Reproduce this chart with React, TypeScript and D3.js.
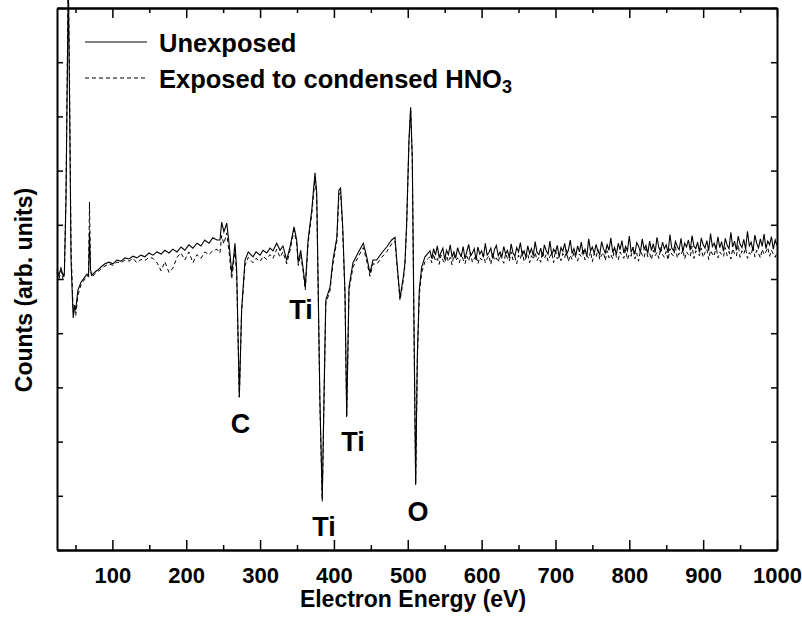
import React, { useRef, useEffect } from 'react';
import * as d3 from 'd3';

// Electron energy (eV) of each sampled point
const energy = [
  25, 27.7, 30.4, 33.5, 35, 37.2, 39.2, 40.3, 42, 44, 46, 47, 48.7, 50.3, 53.4, 57.5, 62.9, 65.6, 67.7, 69,
  70.4, 72.4, 76.5, 80.5, 86, 90, 95.4, 100.8, 106, 111.7, 117, 122.5, 128, 133, 138.7, 144, 149.6, 155, 160.4, 166,
  171, 176.7, 182, 187.5, 193, 198, 203.7, 209, 214.6, 220, 225, 230.8, 236, 241.6, 245.7, 248, 251, 254.8, 258, 261.6,
  263.8, 266, 268.3, 271.9, 275, 279.6, 284, 290.4, 294.5, 300, 304, 309, 313.4, 317.5, 322.5, 327, 331, 336, 340.5, 346,
  349.6, 351.7, 355, 358.5, 361.2, 365, 370, 374.4, 376.7, 378.8, 381, 384.2, 386.5, 389, 394.7, 398.7, 404, 406.7, 409, 411.9,
  415, 417.3, 420.4, 425.8, 432.6, 439.8, 444.4, 448.8, 452.9, 457.9, 464.7, 471.4, 478.2, 482.7, 485.4, 489.5, 494, 496.2, 498.5, 501.6,
  503.9, 506.1, 508.4, 510.7, 512.9, 515.6, 518.8, 523.3, 527.8,
  530, 532.5, 535, 537.5, 540, 542.5, 545, 547.5, 550, 552.5, 555, 557.5, 560, 562.5, 565, 567.5, 570, 572.5, 575, 577.5,
  580, 582.5, 585, 587.5, 590, 592.5, 595, 597.5, 600, 602.5, 605, 607.5, 610, 612.5, 615, 617.5, 620, 622.5, 625, 627.5,
  630, 632.5, 635, 637.5, 640, 642.5, 645, 647.5, 650, 652.5, 655, 657.5, 660, 662.5, 665, 667.5, 670, 672.5, 675, 677.5,
  680, 682.5, 685, 687.5, 690, 692.5, 695, 697.5, 700, 702.5, 705, 707.5, 710, 712.5, 715, 717.5, 720, 722.5, 725, 727.5,
  730, 732.5, 735, 737.5, 740, 742.5, 745, 747.5, 750, 752.5, 755, 757.5, 760, 762.5, 765, 767.5, 770, 772.5, 775, 777.5,
  780, 782.5, 785, 787.5, 790, 792.5, 795, 797.5, 800, 802.5, 805, 807.5, 810, 812.5, 815, 817.5, 820, 822.5, 825, 827.5,
  830, 832.5, 835, 837.5, 840, 842.5, 845, 847.5, 850, 852.5, 855, 857.5, 860, 862.5, 865, 867.5, 870, 872.5, 875, 877.5,
  880, 882.5, 885, 887.5, 890, 892.5, 895, 897.5, 900, 902.5, 905, 907.5, 910, 912.5, 915, 917.5, 920, 922.5, 925, 927.5,
  930, 932.5, 935, 937.5, 940, 942.5, 945, 947.5, 950, 952.5, 955, 957.5, 960, 962.5, 965, 967.5, 970, 972.5, 975, 977.5,
  980, 982.5, 985, 987.5, 990, 992.5, 995, 997.5, 1000,
];

// Counts (arb. units), unexposed sample
const unexposed = [
  517, 507, 520, 504, 513, 646, 904, 1052, 830, 535, 461, 428, 452, 443, 480, 494, 504, 509, 506, 587,
  517, 507, 513, 517, 524, 528, 531, 528, 535, 533, 539, 537, 542, 539, 544, 541, 548, 544, 550, 546,
  553, 548, 555, 550, 559, 553, 563, 557, 566, 561, 572, 566, 576, 572, 572, 605, 587, 603, 566, 511,
  535, 566, 517, 282, 443, 535, 550, 541, 550, 544, 553, 548, 557, 552, 566, 553, 561, 535, 559, 596,
  572, 530, 553, 517, 485, 572, 627, 696, 659, 474, 277, 94, 277, 461, 485, 535, 577, 664, 668, 596,
  474, 247, 485, 530, 548, 566, 541, 511, 535, 535, 548, 559, 572, 577, 530, 465, 504, 530, 603, 756,
  817, 725, 419, 122, 356, 480, 522, 541, 548,
  552, 538, 556, 544, 561, 540, 549, 557, 536, 553, 545, 563, 541, 550, 539, 558, 547, 542, 560, 537,
  551, 564, 543, 548, 556, 535, 559, 546, 552, 540, 566, 544, 549, 557, 538, 555, 562, 543, 550, 541,
  560, 546, 553, 539, 565, 548, 542, 558, 550, 567, 544, 552, 540, 561, 547, 556, 543, 569, 549, 545,
  557, 541, 563, 552, 546, 570, 544, 555, 549, 562, 540, 558, 551, 566, 545, 553, 572, 547, 556, 543,
  561, 550, 568, 546, 555, 542, 574, 552, 559, 547, 564, 551, 545, 569, 556, 548, 563, 553, 576, 549,
  558, 545, 566, 554, 571, 548, 560, 552, 579, 550, 557, 546, 567, 561, 549, 574, 555, 562, 547, 570,
  553, 565, 549, 577, 558, 551, 568, 556, 563, 548, 582, 557, 552, 569, 560, 554, 575, 550, 566, 559,
  572, 553, 580, 561, 556, 568, 549, 576, 563, 557, 571, 552, 584, 560, 566, 554, 578, 558, 569, 551,
  575, 562, 556, 586, 559, 570, 553, 579, 564, 558, 573, 555, 588, 561, 568, 552, 581, 566, 557, 574,
  560, 583, 556, 570, 563, 578, 555, 572, 562,
];

// Counts (arb. units), sample exposed to condensed HNO3
const exposed = [
  512, 500, 515, 498, 508, 660, 930, 1060, 860, 560, 475, 440, 448, 432, 470, 490, 500, 506, 504, 642,
  515, 503, 510, 514, 520, 524, 528, 525, 531, 530, 535, 533, 538, 530, 536, 534, 540, 538, 530, 515,
  532, 512, 520, 540, 548, 535, 550, 530, 545, 538, 550, 545, 552, 555, 548, 580, 565, 585, 550, 500,
  525, 555, 508, 282, 440, 525, 540, 530, 538, 532, 542, 536, 545, 538, 555, 540, 550, 528, 552, 590,
  565, 525, 545, 512, 480, 565, 620, 685, 650, 465, 270, 90, 270, 455, 478, 528, 570, 655, 660, 590,
  468, 245, 478, 522, 540, 558, 533, 505, 528, 527, 540, 550, 565, 570, 525, 460, 498, 525, 598, 750,
  812, 720, 415, 120, 345, 470, 512, 532, 538,
  541, 530, 546, 533, 538, 527, 544, 535, 529, 543, 532, 540, 526, 545, 534, 539, 530, 547, 536, 528,
  542, 533, 549, 531, 537, 544, 528, 540, 535, 546, 530, 538, 543, 527, 548, 534, 539, 531, 545, 536,
  529, 547, 538, 533, 550, 535, 541, 528, 544, 537, 552, 532, 539, 546, 530, 543, 536, 549, 534, 540,
  531, 551, 538, 545, 533, 542, 548, 530, 553, 537, 541, 534, 547, 539, 554, 532, 544, 536, 550, 540,
  533, 546, 541, 556, 535, 543, 538, 551, 532, 547, 540, 555, 536, 544, 549, 534, 552, 539, 545, 537,
  557, 541, 535, 550, 543, 538, 554, 536, 546, 542, 559, 537, 548, 533, 552, 544, 539, 556, 541, 547,
  536, 553, 543, 549, 538, 558, 545, 540, 551, 535, 556, 546, 542, 560, 539, 548, 544, 554, 537, 550,
  545, 541, 561, 538, 552, 547, 543, 557, 540, 549, 555, 536, 553, 546, 542, 562, 539, 550, 545, 541,
  558, 543, 551, 537, 556, 547, 542, 563, 540, 552, 546, 557, 538, 549, 544, 560, 541, 553, 547, 539,
  555, 545, 550, 558, 542, 553, 546, 540, 549,
];

const majorTicks = [100, 200, 300, 400, 500, 600, 700, 800, 900, 1000];
const minorTicks = [50, 150, 250, 350, 450, 550, 650, 750, 850, 950];
const yTicks = [0, 100, 200, 300, 400, 500, 600, 700, 800, 900, 1000];

// Peak annotations: element, energy position, level of the label baseline
const peakNames = ['C', 'Ti', 'Ti', 'Ti', 'O'];
const peakEnergy = [273.5, 355.4, 386.5, 426, 513.8];
const peakLevel = [216, 426, 26, 182, 53];

const FONT = '"Liberation Sans", Arial, sans-serif';

function AugerSpectrum({ width = 802, height = 623 }) {
  const svgRef = useRef(null);

  useEffect(() => {
    const root = d3.select(svgRef.current);
    root.selectAll('*').remove();

    const margin = { top: 8, right: 25, bottom: 73, left: 57 };

    const x = d3.scaleLinear()
      .domain([25, 1000])
      .range([margin.left, width - margin.right]);

    const y = d3.scaleLinear()
      .domain([0, 1000])
      .range([height - margin.bottom, margin.top]);

    const svg = root
      .attr('width', width)
      .attr('height', height)
      .style('font-family', FONT)
      .style('font-weight', 'bold');

    // Spectra
    const line = d3.line()
      .x(d => x(d[0]))
      .y(d => y(d[1]));

    svg.append('path')
      .datum(energy.map((e, i) => [e, exposed[i]]))
      .attr('d', line)
      .attr('fill', 'none')
      .attr('stroke', '#000')
      .attr('stroke-width', 1)
      .attr('stroke-dasharray', '4,3');

    svg.append('path')
      .datum(energy.map((e, i) => [e, unexposed[i]]))
      .attr('d', line)
      .attr('fill', 'none')
      .attr('stroke', '#000')
      .attr('stroke-width', 1.1);

    // Axes, ticks pointing inward on all sides
    const bottom = svg.append('g')
      .attr('transform', `translate(0,${y(0)})`)
      .call(d3.axisBottom(x).tickValues(majorTicks).tickSize(-10).tickSizeOuter(0).tickPadding(17).tickFormat(d3.format('d')));
    bottom.selectAll('text').style('font-size', '22px').style('font-family', FONT).style('font-weight', 'bold');

    svg.append('g')
      .attr('transform', `translate(0,${y(0)})`)
      .call(d3.axisBottom(x).tickValues(minorTicks).tickSize(-5).tickSizeOuter(0).tickFormat(() => ''));

    svg.append('g')
      .attr('transform', `translate(0,${y(1000)})`)
      .call(d3.axisTop(x).tickValues(majorTicks).tickSize(-10).tickSizeOuter(0).tickFormat(() => ''));

    svg.append('g')
      .attr('transform', `translate(0,${y(1000)})`)
      .call(d3.axisTop(x).tickValues(minorTicks).tickSize(-5).tickSizeOuter(0).tickFormat(() => ''));

    svg.append('g')
      .attr('transform', `translate(${x(25)},0)`)
      .call(d3.axisLeft(y).tickValues(yTicks).tickSize(-6).tickSizeOuter(0).tickFormat(() => ''));

    svg.append('g')
      .attr('transform', `translate(${x(1000)},0)`)
      .call(d3.axisRight(y).tickValues(yTicks).tickSize(-6).tickSizeOuter(0).tickFormat(() => ''));

    svg.selectAll('.domain').attr('stroke-width', 2);
    svg.selectAll('.tick line').attr('stroke-width', 1.5);

    // Axis titles
    svg.append('text')
      .attr('x', (x(25) + x(1000)) / 2 - 4)
      .attr('y', 607)
      .attr('text-anchor', 'middle')
      .style('font-size', '23px')
      .text('Electron Energy (eV)');

    svg.append('text')
      .attr('transform', 'rotate(-90)')
      .attr('x', -290)
      .attr('y', 32)
      .attr('text-anchor', 'middle')
      .style('font-size', '23px')
      .text('Counts (arb. units)');

    // Peak labels
    peakNames.forEach((name, i) => {
      svg.append('text')
        .attr('x', x(peakEnergy[i]))
        .attr('y', y(peakLevel[i]))
        .attr('text-anchor', 'middle')
        .style('font-size', '27px')
        .text(name);
    });

    // Legend
    const legend = svg.append('g');
    legend.append('line')
      .attr('x1', 85).attr('x2', 147).attr('y1', 42).attr('y2', 42)
      .attr('stroke', '#000').attr('stroke-width', 1);
    legend.append('text')
      .attr('x', 159).attr('y', 52)
      .style('font-size', '25.5px')
      .text('Unexposed');

    legend.append('line')
      .attr('x1', 85).attr('x2', 147).attr('y1', 78).attr('y2', 78)
      .attr('stroke', '#000').attr('stroke-width', 1)
      .attr('stroke-dasharray', '4,3');
    const t2 = legend.append('text')
      .attr('x', 159).attr('y', 88)
      .style('font-size', '25.5px');
    t2.append('tspan').text('Exposed to condensed HNO');
    t2.append('tspan').attr('dy', 5).style('font-size', '18px').text('3');
  }, [width, height]);

  return (
    <svg ref={svgRef} style={{ position: 'absolute', left: 0, top: 0, background: '#fff' }}></svg>
  );
}

export default function App() {
  return <AugerSpectrum />;
}
